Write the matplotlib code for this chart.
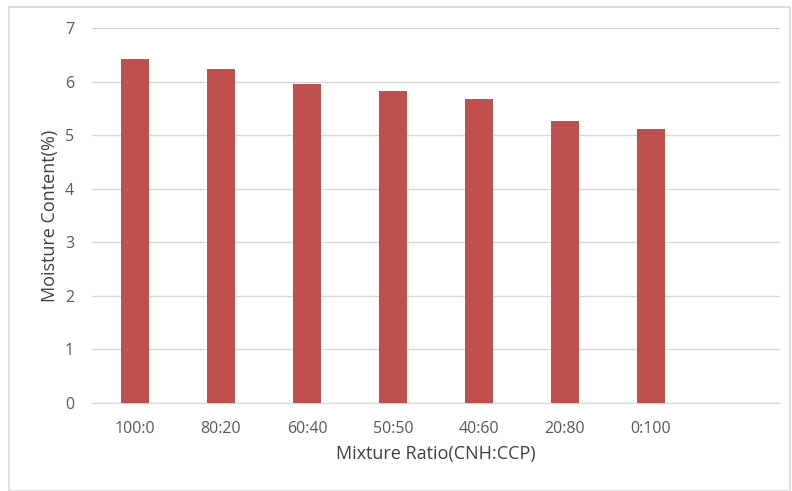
import matplotlib.pyplot as plt
from matplotlib.patches import Rectangle

ratios = ['100:0', '80:20', '60:40', '50:50', '40:60', '20:80', '0:100']
moisture = [6.42, 6.23, 5.96, 5.83, 5.67, 5.26, 5.12]
y_ticks = [0, 1, 2, 3, 4, 5, 6, 7]

plt.rcParams['font.family'] = ['Open Sans', 'DejaVu Sans']

fig = plt.figure(figsize=(7.92, 4.91), dpi=100)
ax = fig.add_axes([92 / 792, 1 - 403 / 491, 688 / 792, 375 / 491])

x = list(range(len(ratios)))
ax.bar(x, moisture, width=0.315, color='#c0504d', zorder=3)

# excel-style axis leaves one empty category slot on the right
ax.set_xlim(-0.5, len(ratios) + 0.5)
ax.set_ylim(0, 7)
ax.set_yticks(y_ticks)
ax.set_xticks(x)
ax.set_xticklabels(ratios)

ax.grid(axis='y', color='#d9d9d9', linewidth=1, zorder=0)
for s in ['top', 'right', 'left']:
    ax.spines[s].set_visible(False)
ax.spines['bottom'].set_color('#d9d9d9')
ax.tick_params(length=0, labelsize=11.5, colors='#595959')
ax.tick_params(axis='x', pad=13)
ax.tick_params(axis='y', pad=13)

ax.set_xlabel('Mixture Ratio(CNH:CCP)', fontsize=13, color='#404040', labelpad=6)
ax.set_ylabel('Moisture Content(%)', fontsize=13, color='#404040', labelpad=4)

fig.patches.append(Rectangle((9 / 792, 0), 1 - 11 / 792, 1 - 7 / 491,
                             transform=fig.transFigure, fill=False,
                             edgecolor='#d9d9d9', linewidth=1.2))

plt.savefig('out.png', dpi=100)
